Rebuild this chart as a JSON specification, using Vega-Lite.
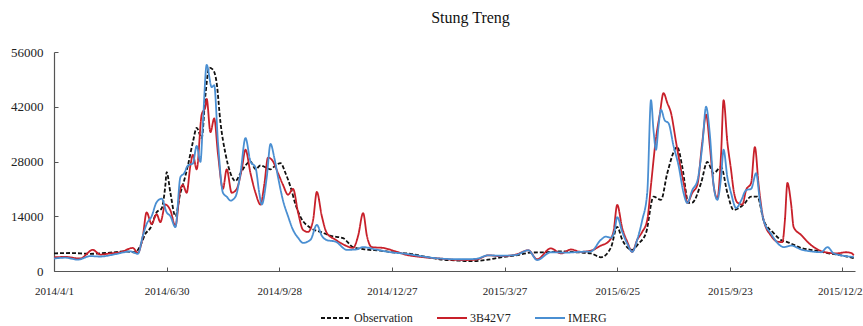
{
  "$schema": "https://vega.github.io/schema/vega-lite/v6.json",
  "width": 801,
  "height": 219,
  "autosize": "none",
  "padding": {"left": 54, "top": 52, "right": 8, "bottom": 55},
  "background": "white",
  "title": {"text": "Stung Treng", "font": "Liberation Serif", "fontSize": 16, "fontWeight": "normal", "color": "#111", "offset": 20, "dx": 16},
  "config": {"view": {"stroke": null}},
  "data": {
    "format": {"parse": {"date": "date"}},
    "values": [
      {"date":"2014/04/01","series":"Observation","flow":4500},
      {"date":"2014/04/14","series":"Observation","flow":4600},
      {"date":"2014/04/30","series":"Observation","flow":4400},
      {"date":"2014/05/16","series":"Observation","flow":4700},
      {"date":"2014/05/28","series":"Observation","flow":5000},
      {"date":"2014/06/05","series":"Observation","flow":4800},
      {"date":"2014/06/09","series":"Observation","flow":6500},
      {"date":"2014/06/13","series":"Observation","flow":9500},
      {"date":"2014/06/17","series":"Observation","flow":11000},
      {"date":"2014/06/22","series":"Observation","flow":15000},
      {"date":"2014/06/26","series":"Observation","flow":16000},
      {"date":"2014/06/29","series":"Observation","flow":22000},
      {"date":"2014/06/30","series":"Observation","flow":25300},
      {"date":"2014/07/03","series":"Observation","flow":20000},
      {"date":"2014/07/07","series":"Observation","flow":14000},
      {"date":"2014/07/11","series":"Observation","flow":20000},
      {"date":"2014/07/13","series":"Observation","flow":22000},
      {"date":"2014/07/17","series":"Observation","flow":27000},
      {"date":"2014/07/21","series":"Observation","flow":33000},
      {"date":"2014/07/24","series":"Observation","flow":36600},
      {"date":"2014/07/28","series":"Observation","flow":34000},
      {"date":"2014/07/31","series":"Observation","flow":45000},
      {"date":"2014/08/03","series":"Observation","flow":52000},
      {"date":"2014/08/06","series":"Observation","flow":51500},
      {"date":"2014/08/09","series":"Observation","flow":48000},
      {"date":"2014/08/12","series":"Observation","flow":38000},
      {"date":"2014/08/16","series":"Observation","flow":30000},
      {"date":"2014/08/20","series":"Observation","flow":25000},
      {"date":"2014/08/24","series":"Observation","flow":23000},
      {"date":"2014/08/28","series":"Observation","flow":25000},
      {"date":"2014/09/01","series":"Observation","flow":27000},
      {"date":"2014/09/05","series":"Observation","flow":28000},
      {"date":"2014/09/09","series":"Observation","flow":26000},
      {"date":"2014/09/13","series":"Observation","flow":27000},
      {"date":"2014/09/17","series":"Observation","flow":26500},
      {"date":"2014/09/21","series":"Observation","flow":26000},
      {"date":"2014/09/25","series":"Observation","flow":27000},
      {"date":"2014/09/29","series":"Observation","flow":27600},
      {"date":"2014/10/03","series":"Observation","flow":25000},
      {"date":"2014/10/07","series":"Observation","flow":21500},
      {"date":"2014/10/11","series":"Observation","flow":17000},
      {"date":"2014/10/15","series":"Observation","flow":13800},
      {"date":"2014/10/23","series":"Observation","flow":11000},
      {"date":"2014/10/31","series":"Observation","flow":10000},
      {"date":"2014/11/08","series":"Observation","flow":9000},
      {"date":"2014/11/18","series":"Observation","flow":8400},
      {"date":"2014/11/26","series":"Observation","flow":6100},
      {"date":"2014/12/06","series":"Observation","flow":5500},
      {"date":"2014/12/18","series":"Observation","flow":5200},
      {"date":"2014/12/30","series":"Observation","flow":4700},
      {"date":"2015/01/11","series":"Observation","flow":4400},
      {"date":"2015/01/23","series":"Observation","flow":3600},
      {"date":"2015/02/03","series":"Observation","flow":3000},
      {"date":"2015/02/16","series":"Observation","flow":2700},
      {"date":"2015/02/28","series":"Observation","flow":2500},
      {"date":"2015/03/12","series":"Observation","flow":2800},
      {"date":"2015/03/24","series":"Observation","flow":3500},
      {"date":"2015/04/05","series":"Observation","flow":4000},
      {"date":"2015/04/17","series":"Observation","flow":4700},
      {"date":"2015/04/29","series":"Observation","flow":4800},
      {"date":"2015/05/11","series":"Observation","flow":5000},
      {"date":"2015/05/23","series":"Observation","flow":4800},
      {"date":"2015/06/04","series":"Observation","flow":4500},
      {"date":"2015/06/12","series":"Observation","flow":3500},
      {"date":"2015/06/20","series":"Observation","flow":6000},
      {"date":"2015/06/25","series":"Observation","flow":11300},
      {"date":"2015/06/29","series":"Observation","flow":8000},
      {"date":"2015/07/07","series":"Observation","flow":5400},
      {"date":"2015/07/12","series":"Observation","flow":7000},
      {"date":"2015/07/18","series":"Observation","flow":9700},
      {"date":"2015/07/24","series":"Observation","flow":19000},
      {"date":"2015/07/30","series":"Observation","flow":18200},
      {"date":"2015/08/04","series":"Observation","flow":25000},
      {"date":"2015/08/12","series":"Observation","flow":31700},
      {"date":"2015/08/16","series":"Observation","flow":26600},
      {"date":"2015/08/21","series":"Observation","flow":17400},
      {"date":"2015/08/24","series":"Observation","flow":17500},
      {"date":"2015/08/31","series":"Observation","flow":22500},
      {"date":"2015/09/05","series":"Observation","flow":27900},
      {"date":"2015/09/10","series":"Observation","flow":25000},
      {"date":"2015/09/16","series":"Observation","flow":26600},
      {"date":"2015/09/21","series":"Observation","flow":20000},
      {"date":"2015/09/26","series":"Observation","flow":15600},
      {"date":"2015/10/04","series":"Observation","flow":17000},
      {"date":"2015/10/10","series":"Observation","flow":19000},
      {"date":"2015/10/15","series":"Observation","flow":19000},
      {"date":"2015/10/20","series":"Observation","flow":13000},
      {"date":"2015/10/28","series":"Observation","flow":9700},
      {"date":"2015/11/03","series":"Observation","flow":7900},
      {"date":"2015/11/08","series":"Observation","flow":7400},
      {"date":"2015/11/19","series":"Observation","flow":5900},
      {"date":"2015/12/01","series":"Observation","flow":5200},
      {"date":"2015/12/10","series":"Observation","flow":4600},
      {"date":"2015/12/21","series":"Observation","flow":4000},
      {"date":"2015/12/31","series":"Observation","flow":3300},

      {"date":"2014/04/01","series":"3B42V7","flow":3500},
      {"date":"2014/04/10","series":"3B42V7","flow":3600},
      {"date":"2014/04/22","series":"3B42V7","flow":3200},
      {"date":"2014/05/02","series":"3B42V7","flow":5400},
      {"date":"2014/05/08","series":"3B42V7","flow":4200},
      {"date":"2014/05/16","series":"3B42V7","flow":4500},
      {"date":"2014/05/24","series":"3B42V7","flow":4800},
      {"date":"2014/06/03","series":"3B42V7","flow":5900},
      {"date":"2014/06/07","series":"3B42V7","flow":4600},
      {"date":"2014/06/11","series":"3B42V7","flow":9000},
      {"date":"2014/06/14","series":"3B42V7","flow":15000},
      {"date":"2014/06/18","series":"3B42V7","flow":12000},
      {"date":"2014/06/22","series":"3B42V7","flow":14500},
      {"date":"2014/06/25","series":"3B42V7","flow":12500},
      {"date":"2014/06/29","series":"3B42V7","flow":17000},
      {"date":"2014/07/03","series":"3B42V7","flow":15500},
      {"date":"2014/07/07","series":"3B42V7","flow":11500},
      {"date":"2014/07/11","series":"3B42V7","flow":21000},
      {"date":"2014/07/13","series":"3B42V7","flow":22000},
      {"date":"2014/07/16","series":"3B42V7","flow":20000},
      {"date":"2014/07/19","series":"3B42V7","flow":27000},
      {"date":"2014/07/21","series":"3B42V7","flow":29700},
      {"date":"2014/07/24","series":"3B42V7","flow":26000},
      {"date":"2014/07/28","series":"3B42V7","flow":40000},
      {"date":"2014/07/31","series":"3B42V7","flow":42000},
      {"date":"2014/08/01","series":"3B42V7","flow":44000},
      {"date":"2014/08/04","series":"3B42V7","flow":35500},
      {"date":"2014/08/07","series":"3B42V7","flow":39000},
      {"date":"2014/08/10","series":"3B42V7","flow":30000},
      {"date":"2014/08/14","series":"3B42V7","flow":21000},
      {"date":"2014/08/17","series":"3B42V7","flow":26000},
      {"date":"2014/08/21","series":"3B42V7","flow":20000},
      {"date":"2014/08/25","series":"3B42V7","flow":21000},
      {"date":"2014/08/29","series":"3B42V7","flow":26000},
      {"date":"2014/09/01","series":"3B42V7","flow":31000},
      {"date":"2014/09/05","series":"3B42V7","flow":25000},
      {"date":"2014/09/09","series":"3B42V7","flow":20000},
      {"date":"2014/09/13","series":"3B42V7","flow":17000},
      {"date":"2014/09/16","series":"3B42V7","flow":22000},
      {"date":"2014/09/19","series":"3B42V7","flow":29000},
      {"date":"2014/09/23","series":"3B42V7","flow":28000},
      {"date":"2014/09/27","series":"3B42V7","flow":25000},
      {"date":"2014/10/01","series":"3B42V7","flow":22000},
      {"date":"2014/10/05","series":"3B42V7","flow":19500},
      {"date":"2014/10/09","series":"3B42V7","flow":21000},
      {"date":"2014/10/13","series":"3B42V7","flow":15000},
      {"date":"2014/10/17","series":"3B42V7","flow":10500},
      {"date":"2014/10/21","series":"3B42V7","flow":10000},
      {"date":"2014/10/25","series":"3B42V7","flow":13000},
      {"date":"2014/10/28","series":"3B42V7","flow":20200},
      {"date":"2014/11/01","series":"3B42V7","flow":14000},
      {"date":"2014/11/05","series":"3B42V7","flow":9700},
      {"date":"2014/11/12","series":"3B42V7","flow":8000},
      {"date":"2014/11/20","series":"3B42V7","flow":6500},
      {"date":"2014/11/26","series":"3B42V7","flow":5900},
      {"date":"2014/11/30","series":"3B42V7","flow":9000},
      {"date":"2014/12/04","series":"3B42V7","flow":14800},
      {"date":"2014/12/07","series":"3B42V7","flow":9000},
      {"date":"2014/12/11","series":"3B42V7","flow":6100},
      {"date":"2014/12/20","series":"3B42V7","flow":5900},
      {"date":"2014/12/30","series":"3B42V7","flow":5000},
      {"date":"2015/01/08","series":"3B42V7","flow":4100},
      {"date":"2015/01/19","series":"3B42V7","flow":3600},
      {"date":"2015/02/03","series":"3B42V7","flow":3200},
      {"date":"2015/02/20","series":"3B42V7","flow":2800},
      {"date":"2015/03/04","series":"3B42V7","flow":2900},
      {"date":"2015/03/14","series":"3B42V7","flow":4000},
      {"date":"2015/03/24","series":"3B42V7","flow":3800},
      {"date":"2015/04/05","series":"3B42V7","flow":4200},
      {"date":"2015/04/15","series":"3B42V7","flow":5300},
      {"date":"2015/04/22","series":"3B42V7","flow":3000},
      {"date":"2015/05/03","series":"3B42V7","flow":5800},
      {"date":"2015/05/11","series":"3B42V7","flow":4500},
      {"date":"2015/05/19","series":"3B42V7","flow":5500},
      {"date":"2015/05/27","series":"3B42V7","flow":4900},
      {"date":"2015/06/04","series":"3B42V7","flow":5200},
      {"date":"2015/06/12","series":"3B42V7","flow":6500},
      {"date":"2015/06/18","series":"3B42V7","flow":7500},
      {"date":"2015/06/22","series":"3B42V7","flow":10000},
      {"date":"2015/06/25","series":"3B42V7","flow":16900},
      {"date":"2015/06/29","series":"3B42V7","flow":11000},
      {"date":"2015/07/03","series":"3B42V7","flow":7500},
      {"date":"2015/07/07","series":"3B42V7","flow":4900},
      {"date":"2015/07/11","series":"3B42V7","flow":8000},
      {"date":"2015/07/15","series":"3B42V7","flow":10000},
      {"date":"2015/07/19","series":"3B42V7","flow":13000},
      {"date":"2015/07/22","series":"3B42V7","flow":22000},
      {"date":"2015/07/26","series":"3B42V7","flow":34000},
      {"date":"2015/07/29","series":"3B42V7","flow":40000},
      {"date":"2015/08/01","series":"3B42V7","flow":45500},
      {"date":"2015/08/04","series":"3B42V7","flow":43000},
      {"date":"2015/08/07","series":"3B42V7","flow":40400},
      {"date":"2015/08/11","series":"3B42V7","flow":33000},
      {"date":"2015/08/15","series":"3B42V7","flow":25800},
      {"date":"2015/08/18","series":"3B42V7","flow":21000},
      {"date":"2015/08/20","series":"3B42V7","flow":17400},
      {"date":"2015/08/24","series":"3B42V7","flow":20000},
      {"date":"2015/08/28","series":"3B42V7","flow":22000},
      {"date":"2015/09/01","series":"3B42V7","flow":33000},
      {"date":"2015/09/04","series":"3B42V7","flow":40000},
      {"date":"2015/09/07","series":"3B42V7","flow":32000},
      {"date":"2015/09/10","series":"3B42V7","flow":22000},
      {"date":"2015/09/13","series":"3B42V7","flow":18500},
      {"date":"2015/09/16","series":"3B42V7","flow":30000},
      {"date":"2015/09/18","series":"3B42V7","flow":43700},
      {"date":"2015/09/21","series":"3B42V7","flow":33000},
      {"date":"2015/09/24","series":"3B42V7","flow":25800},
      {"date":"2015/09/26","series":"3B42V7","flow":20700},
      {"date":"2015/09/29","series":"3B42V7","flow":17500},
      {"date":"2015/10/03","series":"3B42V7","flow":17000},
      {"date":"2015/10/06","series":"3B42V7","flow":20700},
      {"date":"2015/10/10","series":"3B42V7","flow":22500},
      {"date":"2015/10/13","series":"3B42V7","flow":31700},
      {"date":"2015/10/16","series":"3B42V7","flow":22000},
      {"date":"2015/10/20","series":"3B42V7","flow":13000},
      {"date":"2015/10/26","series":"3B42V7","flow":9000},
      {"date":"2015/10/31","series":"3B42V7","flow":7500},
      {"date":"2015/11/04","series":"3B42V7","flow":7400},
      {"date":"2015/11/06","series":"3B42V7","flow":13000},
      {"date":"2015/11/08","series":"3B42V7","flow":22500},
      {"date":"2015/11/11","series":"3B42V7","flow":17000},
      {"date":"2015/11/13","series":"3B42V7","flow":11200},
      {"date":"2015/11/19","series":"3B42V7","flow":9200},
      {"date":"2015/11/27","series":"3B42V7","flow":6600},
      {"date":"2015/12/07","series":"3B42V7","flow":4900},
      {"date":"2015/12/17","series":"3B42V7","flow":4500},
      {"date":"2015/12/25","series":"3B42V7","flow":4800},
      {"date":"2015/12/29","series":"3B42V7","flow":4600},
      {"date":"2015/12/31","series":"3B42V7","flow":4000},

      {"date":"2014/04/01","series":"IMERG","flow":3200},
      {"date":"2014/04/10","series":"IMERG","flow":3400},
      {"date":"2014/04/20","series":"IMERG","flow":2900},
      {"date":"2014/04/30","series":"IMERG","flow":3800},
      {"date":"2014/05/08","series":"IMERG","flow":3700},
      {"date":"2014/05/20","series":"IMERG","flow":4300},
      {"date":"2014/06/01","series":"IMERG","flow":5000},
      {"date":"2014/06/07","series":"IMERG","flow":4400},
      {"date":"2014/06/11","series":"IMERG","flow":9000},
      {"date":"2014/06/14","series":"IMERG","flow":12000},
      {"date":"2014/06/18","series":"IMERG","flow":14000},
      {"date":"2014/06/22","series":"IMERG","flow":17600},
      {"date":"2014/06/26","series":"IMERG","flow":18500},
      {"date":"2014/06/30","series":"IMERG","flow":15000},
      {"date":"2014/07/03","series":"IMERG","flow":14000},
      {"date":"2014/07/07","series":"IMERG","flow":11200},
      {"date":"2014/07/11","series":"IMERG","flow":24000},
      {"date":"2014/07/14","series":"IMERG","flow":25000},
      {"date":"2014/07/17","series":"IMERG","flow":27000},
      {"date":"2014/07/21","series":"IMERG","flow":27500},
      {"date":"2014/07/24","series":"IMERG","flow":32000},
      {"date":"2014/07/27","series":"IMERG","flow":27900},
      {"date":"2014/07/29","series":"IMERG","flow":38000},
      {"date":"2014/08/01","series":"IMERG","flow":52700},
      {"date":"2014/08/05","series":"IMERG","flow":47000},
      {"date":"2014/08/07","series":"IMERG","flow":47500},
      {"date":"2014/08/10","series":"IMERG","flow":33000},
      {"date":"2014/08/14","series":"IMERG","flow":20000},
      {"date":"2014/08/17","series":"IMERG","flow":19000},
      {"date":"2014/08/20","series":"IMERG","flow":18000},
      {"date":"2014/08/24","series":"IMERG","flow":19000},
      {"date":"2014/08/28","series":"IMERG","flow":25000},
      {"date":"2014/09/01","series":"IMERG","flow":34000},
      {"date":"2014/09/05","series":"IMERG","flow":28000},
      {"date":"2014/09/09","series":"IMERG","flow":26500},
      {"date":"2014/09/12","series":"IMERG","flow":20000},
      {"date":"2014/09/14","series":"IMERG","flow":17000},
      {"date":"2014/09/18","series":"IMERG","flow":24000},
      {"date":"2014/09/21","series":"IMERG","flow":32500},
      {"date":"2014/09/24","series":"IMERG","flow":29000},
      {"date":"2014/09/27","series":"IMERG","flow":24000},
      {"date":"2014/10/01","series":"IMERG","flow":18000},
      {"date":"2014/10/05","series":"IMERG","flow":14000},
      {"date":"2014/10/09","series":"IMERG","flow":10500},
      {"date":"2014/10/13","series":"IMERG","flow":8500},
      {"date":"2014/10/17","series":"IMERG","flow":7200},
      {"date":"2014/10/23","series":"IMERG","flow":8000},
      {"date":"2014/10/28","series":"IMERG","flow":11800},
      {"date":"2014/11/01","series":"IMERG","flow":9000},
      {"date":"2014/11/05","series":"IMERG","flow":7900},
      {"date":"2014/11/12","series":"IMERG","flow":7500},
      {"date":"2014/11/21","series":"IMERG","flow":5400},
      {"date":"2014/11/28","series":"IMERG","flow":5500},
      {"date":"2014/12/04","series":"IMERG","flow":6100},
      {"date":"2014/12/14","series":"IMERG","flow":5500},
      {"date":"2014/12/26","series":"IMERG","flow":4800},
      {"date":"2015/01/07","series":"IMERG","flow":4400},
      {"date":"2015/01/19","series":"IMERG","flow":3800},
      {"date":"2015/02/03","series":"IMERG","flow":3200},
      {"date":"2015/02/20","series":"IMERG","flow":3000},
      {"date":"2015/03/04","series":"IMERG","flow":3100},
      {"date":"2015/03/14","series":"IMERG","flow":4000},
      {"date":"2015/03/24","series":"IMERG","flow":3900},
      {"date":"2015/04/05","series":"IMERG","flow":4100},
      {"date":"2015/04/15","series":"IMERG","flow":5300},
      {"date":"2015/04/22","series":"IMERG","flow":2800},
      {"date":"2015/05/03","series":"IMERG","flow":4800},
      {"date":"2015/05/15","series":"IMERG","flow":4700},
      {"date":"2015/05/27","series":"IMERG","flow":4900},
      {"date":"2015/06/04","series":"IMERG","flow":5000},
      {"date":"2015/06/12","series":"IMERG","flow":8000},
      {"date":"2015/06/16","series":"IMERG","flow":8800},
      {"date":"2015/06/20","series":"IMERG","flow":8500},
      {"date":"2015/06/23","series":"IMERG","flow":10500},
      {"date":"2015/06/25","series":"IMERG","flow":13800},
      {"date":"2015/06/29","series":"IMERG","flow":10000},
      {"date":"2015/07/03","series":"IMERG","flow":7000},
      {"date":"2015/07/07","series":"IMERG","flow":4900},
      {"date":"2015/07/11","series":"IMERG","flow":8000},
      {"date":"2015/07/15","series":"IMERG","flow":13000},
      {"date":"2015/07/19","series":"IMERG","flow":20000},
      {"date":"2015/07/22","series":"IMERG","flow":43700},
      {"date":"2015/07/24","series":"IMERG","flow":36000},
      {"date":"2015/07/26","series":"IMERG","flow":31000},
      {"date":"2015/07/28","series":"IMERG","flow":37000},
      {"date":"2015/07/30","series":"IMERG","flow":41200},
      {"date":"2015/08/02","series":"IMERG","flow":38500},
      {"date":"2015/08/05","series":"IMERG","flow":37800},
      {"date":"2015/08/09","series":"IMERG","flow":32000},
      {"date":"2015/08/13","series":"IMERG","flow":27000},
      {"date":"2015/08/17","series":"IMERG","flow":20000},
      {"date":"2015/08/20","series":"IMERG","flow":17400},
      {"date":"2015/08/24","series":"IMERG","flow":20700},
      {"date":"2015/08/28","series":"IMERG","flow":23000},
      {"date":"2015/09/01","series":"IMERG","flow":32000},
      {"date":"2015/09/04","series":"IMERG","flow":42000},
      {"date":"2015/09/07","series":"IMERG","flow":35000},
      {"date":"2015/09/10","series":"IMERG","flow":22000},
      {"date":"2015/09/13","series":"IMERG","flow":18200},
      {"date":"2015/09/16","series":"IMERG","flow":24000},
      {"date":"2015/09/18","series":"IMERG","flow":31000},
      {"date":"2015/09/21","series":"IMERG","flow":24000},
      {"date":"2015/09/24","series":"IMERG","flow":19900},
      {"date":"2015/09/28","series":"IMERG","flow":16100},
      {"date":"2015/10/02","series":"IMERG","flow":18000},
      {"date":"2015/10/06","series":"IMERG","flow":20700},
      {"date":"2015/10/10","series":"IMERG","flow":21000},
      {"date":"2015/10/14","series":"IMERG","flow":25000},
      {"date":"2015/10/17","series":"IMERG","flow":18000},
      {"date":"2015/10/20","series":"IMERG","flow":13000},
      {"date":"2015/10/26","series":"IMERG","flow":9500},
      {"date":"2015/10/31","series":"IMERG","flow":7200},
      {"date":"2015/11/05","series":"IMERG","flow":6100},
      {"date":"2015/11/11","series":"IMERG","flow":6500},
      {"date":"2015/11/19","series":"IMERG","flow":5500},
      {"date":"2015/11/27","series":"IMERG","flow":5000},
      {"date":"2015/12/05","series":"IMERG","flow":4800},
      {"date":"2015/12/10","series":"IMERG","flow":6100},
      {"date":"2015/12/15","series":"IMERG","flow":4500},
      {"date":"2015/12/25","series":"IMERG","flow":3800},
      {"date":"2015/12/31","series":"IMERG","flow":3600}
    ]
  },
  "mark": {"type": "line", "strokeWidth": 1.8, "interpolate": "monotone"},
  "encoding": {
    "x": {
      "field": "date", "type": "temporal",
      "scale": {"domain": [{"year": 2014, "month": 4, "date": 1}, {"year": 2016, "month": 1, "date": 1}]},
      "axis": {
        "title": null, "grid": false, "format": "%Y/%-m/%-d",
        "values": [
          {"year": 2014, "month": 4, "date": 1},
          {"year": 2014, "month": 6, "date": 30},
          {"year": 2014, "month": 9, "date": 28},
          {"year": 2014, "month": 12, "date": 27},
          {"year": 2015, "month": 3, "date": 27},
          {"year": 2015, "month": 6, "date": 25},
          {"year": 2015, "month": 9, "date": 23},
          {"year": 2015, "month": 12, "date": 22}
        ],
        "labelFont": "Liberation Serif", "labelFontSize": 11, "labelColor": "#222",
        "domainColor": "#555", "domainWidth": 1.2, "tickColor": "#555",
        "tickSize": -4, "labelPadding": 18, "labelOverlap": false, "labelFlush": false
      }
    },
    "y": {
      "field": "flow", "type": "quantitative",
      "scale": {"domain": [0, 56000], "nice": false},
      "axis": {
        "title": null, "grid": false, "values": [0, 14000, 28000, 42000, 56000], "format": "d",
        "labelFont": "Liberation Serif", "labelFontSize": 13, "labelColor": "#222",
        "domainColor": "#555", "domainWidth": 1.2, "tickColor": "#555",
        "tickSize": -4, "labelPadding": 15
      }
    },
    "color": {
      "field": "series", "type": "nominal",
      "scale": {"domain": ["Observation", "3B42V7", "IMERG"], "range": ["#111111", "#c8202a", "#4a8fd2"]},
      "legend": {
        "title": null, "orient": "none", "legendX": 266, "legendY": 250, "direction": "horizontal",
        "symbolType": "stroke", "symbolSize": 900, "symbolStrokeWidth": 2,
        "labelFont": "Liberation Serif", "labelFontSize": 12, "labelColor": "#222",
        "labelOffset": 2, "columnPadding": 20,
        "encode": {"symbols": {"update": {"strokeDash": {"signal": "datum.value === 'Observation' ? [4, 2] : [1, 0]"}}}}
      }
    },
    "strokeDash": {
      "field": "series", "type": "nominal",
      "scale": {"domain": ["Observation", "3B42V7", "IMERG"], "range": [[4, 2], [1, 0], [1, 0]]},
      "legend": null
    }
  }
}
